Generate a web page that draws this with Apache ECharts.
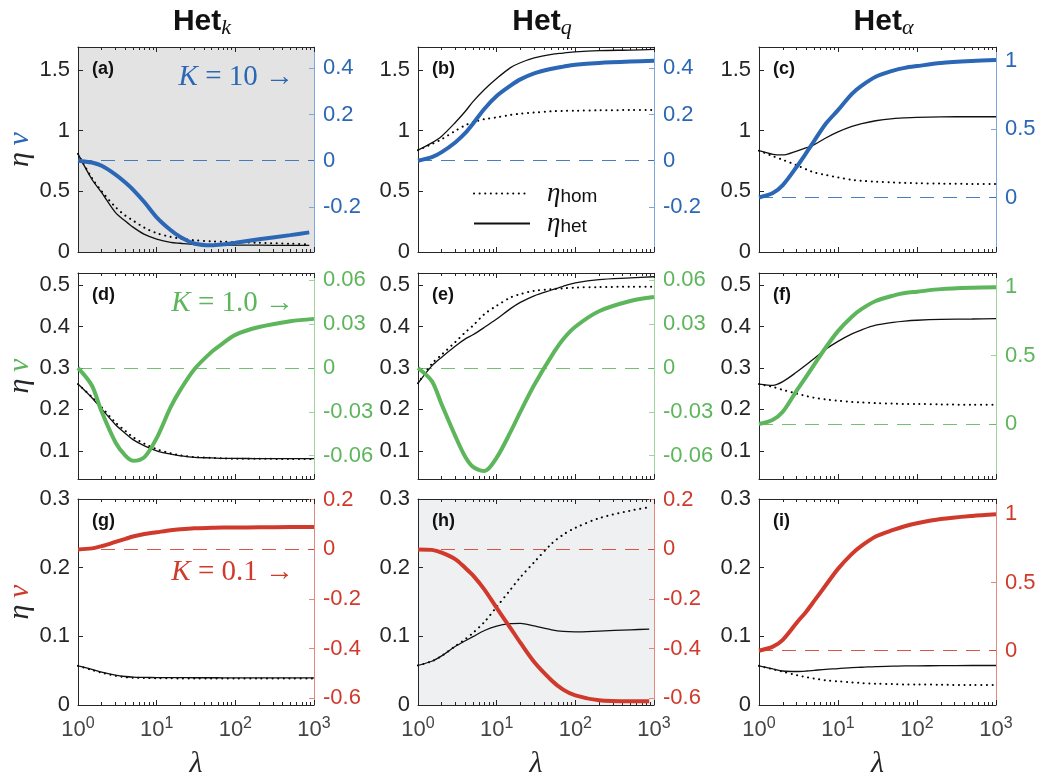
<!DOCTYPE html>
<html>
<head>
<meta charset="utf-8">
<script src="https://cdn.jsdelivr.net/npm/echarts@6/dist/echarts.min.js"></script>
<style>
  html, body { margin: 0; background: #fff; }
  #chart { width: 1039px; height: 780px; }
</style>
</head>
<body>
<div id="chart"></div>
<script>
// λ sample points (panels a and h stop a little short of 10^3)
const lam = [1, 1.5, 2, 3, 4, 5, 7, 10, 15, 20, 30, 50, 70, 100, 200, 500, 1000]
const lamShort = [1, 1.5, 2, 3, 4, 5, 7, 10, 15, 20, 30, 50, 70, 100, 200, 500, 870]

// row 1: K = 10
const homA = [0.809, 0.61, 0.5, 0.37, 0.3, 0.26, 0.2, 0.155, 0.125, 0.11, 0.097, 0.088, 0.085, 0.082, 0.076, 0.068, 0.064]
const hetA = [0.809, 0.6, 0.49, 0.325, 0.255, 0.205, 0.145, 0.107, 0.08, 0.072, 0.062, 0.058, 0.057, 0.057, 0.056, 0.055, 0.055]
const nuA = [0, -0.008, -0.022, -0.06, -0.094, -0.125, -0.18, -0.245, -0.3, -0.33, -0.358, -0.366, -0.362, -0.355, -0.34, -0.322, -0.31]

const homB = [0.84, 0.89, 0.93, 1.0, 1.045, 1.07, 1.095, 1.11, 1.13, 1.14, 1.15, 1.16, 1.163, 1.165, 1.168, 1.17, 1.17]
const hetB = [0.84, 0.9, 0.955, 1.07, 1.16, 1.24, 1.34, 1.43, 1.52, 1.56, 1.6, 1.63, 1.64, 1.65, 1.66, 1.665, 1.67]
const nuB = [0, 0.015, 0.037, 0.08, 0.12, 0.16, 0.225, 0.28, 0.325, 0.352, 0.378, 0.398, 0.407, 0.415, 0.423, 0.429, 0.432]

const homC = [0.835, 0.79, 0.76, 0.715, 0.68, 0.656, 0.635, 0.615, 0.595, 0.587, 0.58, 0.573, 0.57, 0.567, 0.564, 0.561, 0.56]
const hetC = [0.835, 0.805, 0.8, 0.832, 0.86, 0.885, 0.94, 0.99, 1.035, 1.058, 1.082, 1.1, 1.106, 1.11, 1.114, 1.115, 1.115]
const nuC = [0, 0.032, 0.09, 0.225, 0.33, 0.415, 0.54, 0.64, 0.76, 0.82, 0.885, 0.93, 0.95, 0.963, 0.985, 1.0, 1.007]

// row 2: K = 1.0
const homD = [0.261, 0.23, 0.205, 0.168, 0.148, 0.133, 0.117, 0.104, 0.094, 0.089, 0.085, 0.083, 0.082, 0.081, 0.081, 0.08, 0.08]
const hetD = [0.261, 0.228, 0.201, 0.163, 0.142, 0.127, 0.112, 0.1, 0.092, 0.088, 0.084, 0.083, 0.082, 0.082, 0.081, 0.081, 0.081]
const nuD = [0, -0.012, -0.03, -0.051, -0.06, -0.0635, -0.061, -0.048, -0.027, -0.015, -0.001, 0.011, 0.017, 0.0227, 0.028, 0.032, 0.0336]

const homE = [0.263, 0.31, 0.332, 0.363, 0.386, 0.402, 0.43, 0.45, 0.47, 0.478, 0.486, 0.49, 0.492, 0.494, 0.495, 0.496, 0.496]
const hetE = [0.263, 0.305, 0.326, 0.353, 0.37, 0.38, 0.398, 0.418, 0.443, 0.458, 0.474, 0.488, 0.497, 0.505, 0.513, 0.517, 0.52]
const nuE = [0, -0.009, -0.025, -0.047, -0.061, -0.0677, -0.0706, -0.0614, -0.0438, -0.03, -0.0117, 0.0083, 0.0196, 0.0282, 0.0388, 0.0458, 0.0485]

const homF = [0.261, 0.254, 0.247, 0.238, 0.232, 0.228, 0.224, 0.221, 0.218, 0.217, 0.215, 0.214, 0.213, 0.213, 0.212, 0.211, 0.211]
const hetF = [0.261, 0.258, 0.267, 0.29, 0.308, 0.323, 0.345, 0.364, 0.382, 0.392, 0.403, 0.41, 0.413, 0.415, 0.417, 0.418, 0.419]
const nuF = [0, 0.032, 0.09, 0.245, 0.35, 0.435, 0.56, 0.68, 0.785, 0.842, 0.9, 0.94, 0.958, 0.968, 0.987, 0.997, 1.0]

// row 3: K = 0.1
const homG = [0.057, 0.051, 0.047, 0.0425, 0.0405, 0.0398, 0.0393, 0.039, 0.0388, 0.0387, 0.0386, 0.0386, 0.0385, 0.0385, 0.0385, 0.0385, 0.0385]
const hetG = [0.057, 0.052, 0.048, 0.0435, 0.0415, 0.0406, 0.0402, 0.04, 0.0399, 0.0398, 0.0397, 0.0397, 0.0396, 0.0396, 0.0396, 0.0396, 0.0396]
const nuG = [0, 0.004, 0.013, 0.03, 0.042, 0.052, 0.062, 0.069, 0.077, 0.081, 0.085, 0.087, 0.088, 0.088, 0.089, 0.09, 0.09]

const homH = [0.0577, 0.0637, 0.0715, 0.086, 0.096, 0.105, 0.121, 0.143, 0.168, 0.186, 0.208, 0.235, 0.248, 0.258, 0.272, 0.283, 0.288]
const hetH = [0.0577, 0.0637, 0.0715, 0.0855, 0.0935, 0.0995, 0.1085, 0.115, 0.1185, 0.119, 0.1152, 0.1095, 0.1072, 0.1066, 0.1077, 0.1095, 0.1105]
const nuH = [0, -0.002, -0.013, -0.04, -0.075, -0.105, -0.162, -0.236, -0.317, -0.376, -0.454, -0.528, -0.565, -0.588, -0.608, -0.612, -0.612]

const homI = [0.057, 0.052, 0.0485, 0.0435, 0.0405, 0.0385, 0.036, 0.0345, 0.033, 0.032, 0.031, 0.0305, 0.03, 0.03, 0.0295, 0.029, 0.029]
const hetI = [0.057, 0.0525, 0.0495, 0.0488, 0.0495, 0.0505, 0.052, 0.053, 0.0545, 0.055, 0.056, 0.0565, 0.057, 0.057, 0.0573, 0.0575, 0.0575]
const nuI = [0, 0.03, 0.08, 0.205, 0.29, 0.365, 0.48, 0.6, 0.71, 0.77, 0.837, 0.885, 0.912, 0.934, 0.965, 0.988, 1.0]

// tick labels
const etaTicks = [[0, 0.5, 1, 1.5], [0.1, 0.2, 0.3, 0.4, 0.5], [0, 0.1, 0.2, 0.3]]
const nuTicksAB = [-0.4, -0.2, 0, 0.2, 0.4]
const nuTicksDE = [-0.06, -0.03, 0, 0.03, 0.06]
const nuTicksGH = [-0.6, -0.4, -0.2, 0, 0.2]
const nuTicksAlpha = [0, 0.5, 1]
const colTitles = ['k', 'q', 'α']
const kLabels = ['10', '1.0', '0.1']

// axis ranges
const etaRange = [[0, 1.69], [0.032, 0.529], [0, 0.3]]

const panels = [
  { tag: '(a)', lam: lamShort, hom: homA, het: hetA, nu: nuA, nuMin: -0.395, nuMax: 0.492, nuTicks: nuTicksAB },
  { tag: '(b)', lam: lam, hom: homB, het: hetB, nu: nuB, nuMin: -0.395, nuMax: 0.492, nuTicks: nuTicksAB },
  { tag: '(c)', lam: lam, hom: homC, het: hetC, nu: nuC, nuMin: -0.40, nuMax: 1.103, nuTicks: nuTicksAlpha },
  { tag: '(d)', lam: lam, hom: homD, het: hetD, nu: nuD, nuMin: -0.076, nuMax: 0.065, nuTicks: nuTicksDE },
  { tag: '(e)', lam: lam, hom: homE, het: hetE, nu: nuE, nuMin: -0.076, nuMax: 0.065, nuTicks: nuTicksDE },
  { tag: '(f)', lam: lam, hom: homF, het: hetF, nu: nuF, nuMin: -0.402, nuMax: 1.105, nuTicks: nuTicksAlpha },
  { tag: '(g)', lam: lam, hom: homG, het: hetG, nu: nuG, nuMin: -0.627, nuMax: 0.203, nuTicks: nuTicksGH },
  { tag: '(h)', lam: lamShort, hom: homH, het: hetH, nu: nuH, nuMin: -0.627, nuMax: 0.203, nuTicks: nuTicksGH },
  { tag: '(i)', lam: lam, hom: homI, het: hetI, nu: nuI, nuMin: -0.398, nuMax: 1.112, nuTicks: nuTicksAlpha }
]

// layout / style
const colLeft = [78, 418, 759]
const colWidth = [236, 236, 237]
const rowTop = [47, 273, 499]
const rowHeight = [205, 206, 206]
const rowColor = ['#2b67b4', '#5db65b', '#d03a2c']
const rowLight = ['#7ea6dc', '#9ed49c', '#e4897f']
const panelBg = { 0: '#e3e3e3', 7: '#eff0f1' }
const ink = '#262626'
const sans = 'Liberation Sans'
const serif = 'Liberation Serif'
const minorLog = [2, 3, 4, 5, 6, 7, 8, 9, 20, 30, 40, 50, 60, 70, 80, 90, 200, 300, 400, 500, 600, 700, 800, 900].map(Math.log10)

const grids = [], xAxes = [], yAxes = [], series = [], graphics = []

panels.forEach((p, i) => {
  const row = Math.floor(i / 3), col = i % 3
  const left = colLeft[col], top = rowTop[row]
  grids.push({
    left: left, top: top, width: colWidth[col], height: rowHeight[row],
    show: panelBg[i] != null, backgroundColor: panelBg[i] || 'transparent', borderWidth: 0,
    containLabel: false, outerBoundsMode: 'none'
  })

  // bottom log axis (main), bottom minor ticks, top log axis, top minor ticks
  xAxes.push({
    type: 'log', logBase: 10, gridIndex: i, position: 'bottom', min: 1, max: 1000,
    axisLine: { show: true, onZero: false, lineStyle: { color: ink, width: 1 } },
    axisTick: { show: true, inside: true, length: 5, lineStyle: { color: ink } },
    axisLabel: {
      show: row === 2, margin: 11, hideOverlap: false,
      formatter: v => '{b|10}{s|' + Math.round(Math.log10(v)) + '}',
      rich: {
        b: { fontFamily: sans, fontSize: 22, color: '#444', lineHeight: 27 },
        s: { fontFamily: sans, fontSize: 16, color: '#444', lineHeight: 12, verticalAlign: 'top' }
      }
    },
    splitLine: { show: false },
    name: row === 2 ? 'λ' : '', nameLocation: 'middle', nameGap: 44,
    nameTextStyle: { fontFamily: serif, fontStyle: 'italic', fontSize: 30, color: ink }
  })
  xAxes.push({
    type: 'value', gridIndex: i, position: 'bottom', min: 0, max: 3,
    axisLine: { show: false, onZero: false },
    axisTick: { show: true, inside: true, length: 3, customValues: minorLog, lineStyle: { color: ink } },
    axisLabel: { show: false }, splitLine: { show: false }
  })
  xAxes.push({
    type: 'log', logBase: 10, gridIndex: i, position: 'top', min: 1, max: 1000,
    axisLine: { show: true, onZero: false, lineStyle: { color: ink, width: 1 } },
    axisTick: { show: true, inside: true, length: 5, lineStyle: { color: ink } },
    axisLabel: { show: false }, splitLine: { show: false }
  })
  xAxes.push({
    type: 'value', gridIndex: i, position: 'top', min: 0, max: 3,
    axisLine: { show: false, onZero: false },
    axisTick: { show: true, inside: true, length: 3, customValues: minorLog, lineStyle: { color: ink } },
    axisLabel: { show: false }, splitLine: { show: false }
  })

  // left η axis
  yAxes.push({
    type: 'value', gridIndex: i, position: 'left', min: etaRange[row][0], max: etaRange[row][1],
    axisLine: { show: true, onZero: false, lineStyle: { color: ink, width: 1 } },
    axisTick: { show: true, inside: true, length: 5, customValues: etaTicks[row], lineStyle: { color: ink } },
    axisLabel: { show: true, margin: 8, customValues: etaTicks[row], fontFamily: sans, fontSize: 22, color: ink },
    splitLine: { show: false },
    name: col === 0 ? '{e|η}  {n|ν}' : '', nameLocation: 'middle', nameGap: 42, nameRotate: 90,
    nameTextStyle: {
      rich: {
        e: { fontFamily: serif, fontStyle: 'italic', fontSize: 30, color: ink },
        n: { fontFamily: serif, fontStyle: 'italic', fontSize: 30, color: rowColor[row] }
      }
    }
  })
  // right ν axis
  yAxes.push({
    type: 'value', gridIndex: i, position: 'right', min: p.nuMin, max: p.nuMax,
    axisLine: { show: true, onZero: false, lineStyle: { color: rowLight[row], width: 1 } },
    axisTick: { show: true, inside: true, length: 5, customValues: p.nuTicks, lineStyle: { color: rowLight[row] } },
    axisLabel: { show: true, margin: 9, customValues: p.nuTicks, fontFamily: sans, fontSize: 22, color: rowColor[row] },
    splitLine: { show: false }
  })

  const pts = arr => p.lam.map((x, k) => [x, arr[k]])
  series.push({
    name: 'hom', type: 'line', xAxisIndex: 4 * i, yAxisIndex: 2 * i, data: pts(p.hom),
    symbol: 'none', showSymbol: false, smooth: 0.3, z: 3,
    itemStyle: { color: '#000' },
    lineStyle: { color: '#000', width: 2, type: [0.1, 5.5], cap: 'round' }
  })
  series.push({
    name: 'het', type: 'line', xAxisIndex: 4 * i, yAxisIndex: 2 * i, data: pts(p.het),
    symbol: 'none', showSymbol: false, smooth: 0.3, z: 4,
    itemStyle: { color: '#111' },
    lineStyle: { color: '#111', width: 1.3 }
  })
  series.push({
    name: 'nu' + i, type: 'line', xAxisIndex: 4 * i, yAxisIndex: 2 * i + 1, data: pts(p.nu),
    symbol: 'none', showSymbol: false, smooth: 0.3, z: 5,
    itemStyle: { color: rowColor[row] },
    lineStyle: { color: rowColor[row], width: 4 },
    markLine: {
      silent: true, symbol: 'none', label: { show: false }, z: 2,
      lineStyle: { color: rowColor[row], opacity: 0.85, width: 1.1, type: [14, 9] },
      data: [{ yAxis: 0 }]
    }
  })

  // panel tag
  graphics.push({
    type: 'text', x: left + 14, y: top + 22,
    style: { text: p.tag, font: 'bold 18px "Liberation Sans"', fill: '#111', verticalAlign: 'middle' }
  })
})

// column titles
colTitles.forEach((t, c) => {
  graphics.push({
    type: 'text', x: colLeft[c] + colWidth[c] / 2 + 6, y: 22,
    style: {
      text: '{h|Het}{s|' + t + '}', align: 'center', verticalAlign: 'middle',
      rich: {
        h: { fontFamily: sans, fontWeight: 'bold', fontSize: 30, fill: '#111', lineHeight: 34 },
        s: { fontFamily: serif, fontStyle: 'italic', fontSize: 22, fill: '#111', lineHeight: 14, verticalAlign: 'bottom' }
      }
    }
  })
})

// K labels
const kY = [77, 303, 572]
kLabels.forEach((k, r) => {
  graphics.push({
    type: 'text', x: 294, y: kY[r],
    style: {
      text: '{k|K}{t| = ' + k + ' →}', align: 'right', verticalAlign: 'middle',
      rich: {
        k: { fontFamily: serif, fontStyle: 'italic', fontSize: 29, fill: rowColor[r] },
        t: { fontFamily: serif, fontSize: 29, fill: rowColor[r] }
      }
    }
  })
})

const chart = echarts.init(document.getElementById('chart'), null, { renderer: 'canvas' })
chart.setOption({
  animation: false,
  backgroundColor: '#fff',
  grid: grids,
  xAxis: xAxes,
  yAxis: yAxes,
  series: series,
  graphic: graphics,
  legend: {
    data: ['hom', 'het'], left: 468, top: 175, orient: 'vertical',
    itemWidth: 56, itemHeight: 14, itemGap: 3, selectedMode: false,
    itemStyle: { opacity: 0 },
    formatter: n => '{e|η}{s|' + n + '}',
    textStyle: {
      padding: [0, 0, 0, 12],
      rich: {
        e: { fontFamily: serif, fontStyle: 'italic', fontSize: 27, color: '#111', lineHeight: 26 },
        s: { fontFamily: sans, fontSize: 19, color: '#111', lineHeight: 16, verticalAlign: 'bottom' }
      }
    }
  }
})
</script>
</body>
</html>
